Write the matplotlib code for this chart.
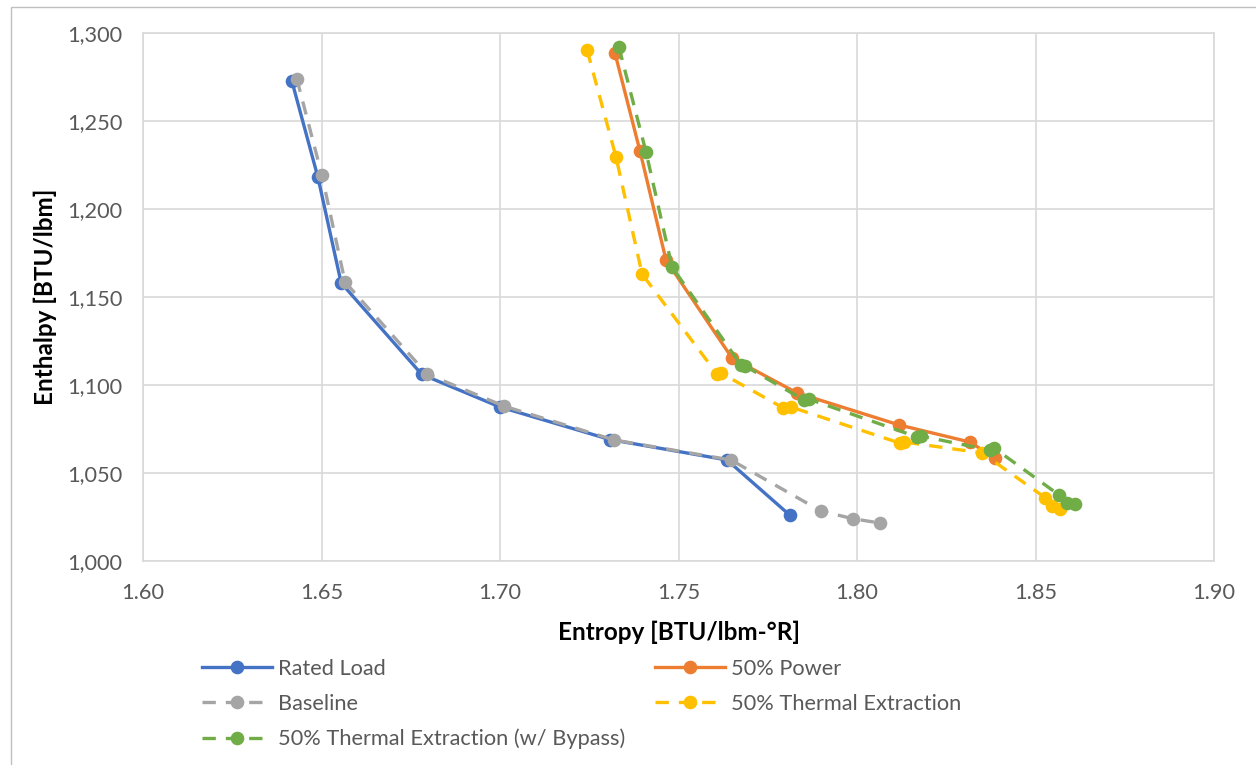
import numpy as np
import matplotlib.pyplot as plt
from matplotlib.patches import Rectangle
from matplotlib.ticker import FuncFormatter

# Entropy [BTU/lbm-R] and enthalpy [BTU/lbm] state points
rated_s = [1.6417, 1.6490, 1.6555, 1.6781, 1.7000, 1.7308, 1.7636, 1.7812]
rated_h = [1272.7, 1218.0, 1158.0, 1106.0, 1087.5, 1069.0, 1057.4, 1026.0]

power_s = [1.7322, 1.7392, 1.7465, 1.7650, 1.7832, 1.8118, 1.8316, 1.8386]
power_h = [1288.6, 1233.0, 1171.0, 1115.3, 1095.5, 1077.3, 1067.6, 1058.5]

base_s = [1.6431, 1.6501, 1.6566, 1.6795, 1.7011, 1.7319, 1.7647, 1.7899, 1.7989, 1.8064]
base_h = [1273.9, 1219.3, 1158.5, 1106.3, 1088.0, 1068.8, 1057.4, 1028.4, 1024.0, 1021.6]

thermal_s = [1.7244, 1.7325, 1.7398, 1.7608, 1.7619, 1.7793, 1.7815, 1.8120, 1.8132,
             1.8350, 1.8527, 1.8546, 1.8569]
thermal_h = [1290.3, 1229.5, 1163.0, 1106.2, 1106.8, 1087.0, 1087.5, 1067.0, 1067.6,
             1061.4, 1036.0, 1031.2, 1029.5]

bypass_s = [1.7333, 1.7409, 1.7482, 1.7675, 1.7686, 1.7851, 1.7865, 1.8168, 1.8179,
            1.8372, 1.8384, 1.8566, 1.8588, 1.8611]
bypass_h = [1292.0, 1232.4, 1167.0, 1111.4, 1110.8, 1091.5, 1092.0, 1070.5, 1071.0,
            1063.0, 1064.2, 1037.5, 1033.0, 1032.4]

x_ticks = [1.60, 1.65, 1.70, 1.75, 1.80, 1.85, 1.90]
y_ticks = [1000, 1050, 1100, 1150, 1200, 1250, 1300]

plt.rcParams['font.family'] = ['Lato', 'DejaVu Sans']

W, H = 1256, 765
fig = plt.figure(figsize=(W / 100, H / 100), dpi=100)
ax = fig.add_axes([143 / W, 1 - 561 / H, (1214 - 143) / W, (561 - 33) / H])

# outer chart border (runs off the right/bottom of the image)
fig.patches.append(Rectangle((11 / W, -0.1), 1.2, 1 - 7 / H + 0.1, transform=fig.transFigure,
                             fill=False, edgecolor='#BFBFBF', linewidth=1))

dash = (4, 3)
lw = 2.4
ms = 8.8
l_rated, = ax.plot(rated_s, rated_h, color='#4472C4', lw=lw, marker='o', ms=ms,
                   label='Rated Load')
l_power, = ax.plot(power_s, power_h, color='#ED7D31', lw=lw, marker='o', ms=ms,
                   label='50% Power')
l_base, = ax.plot(base_s, base_h, color='#A5A5A5', lw=lw, marker='o', ms=ms,
                  dashes=dash, label='Baseline')
l_thermal, = ax.plot(thermal_s, thermal_h, color='#FFC000', lw=lw, marker='o', ms=ms,
                     dashes=dash, label='50% Thermal Extraction')
l_bypass, = ax.plot(bypass_s, bypass_h, color='#70AD47', lw=lw, marker='o', ms=ms,
                    dashes=dash, label='50% Thermal Extraction (w/ Bypass)')

ax.set_xlim(1.60, 1.90)
ax.set_ylim(1000, 1300)
ax.set_xticks(x_ticks)
ax.set_yticks(y_ticks)
ax.xaxis.set_major_formatter(FuncFormatter(lambda v, p: f'{v:.2f}'))
ax.yaxis.set_major_formatter(FuncFormatter(lambda v, p: f'{v:,.0f}'))
ax.tick_params(length=0, labelsize=15.7, colors='#595959')
ax.tick_params(axis='y', pad=15)
ax.tick_params(axis='x', pad=16)
ax.grid(True, color='#D9D9D9', lw=1.2)
ax.set_axisbelow(True)
for sp in ax.spines.values():
    sp.set_color('#D9D9D9')
    sp.set_linewidth(1.2)

ax.set_xlabel('Entropy [BTU/lbm-°R]', fontsize=17.5, fontweight='bold', va='center')
ax.xaxis.set_label_coords(0.5, (561 - 632) / 528)
ax.set_ylabel('Enthalpy [BTU/lbm]', fontsize=17.5, fontweight='bold', va='center')
ax.yaxis.set_label_coords((45 - 143) / 1071, 0.5)

leg_kw = dict(frameon=False, fontsize=15.7, handlelength=3.2, handletextpad=0.28,
              labelspacing=0.68, borderpad=0, borderaxespad=0, loc='upper left',
              bbox_transform=fig.transFigure, labelcolor='#595959')
leg1 = fig.legend(handles=[l_rated, l_base, l_bypass],
                  bbox_to_anchor=(202 / W, 1 - 659 / H), **leg_kw)
leg2 = fig.legend(handles=[l_power, l_thermal],
                  bbox_to_anchor=(655 / W, 1 - 659 / H), **leg_kw)

fig.savefig('out.png', dpi=100)
